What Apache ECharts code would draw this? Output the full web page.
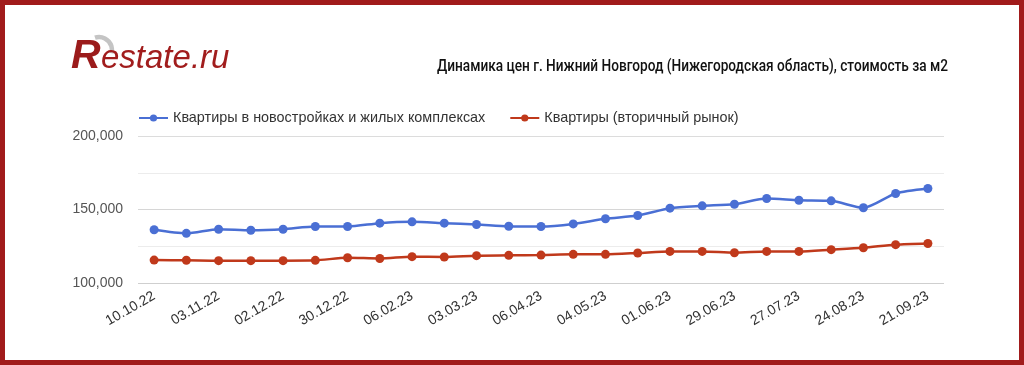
<!DOCTYPE html>
<html><head><meta charset="utf-8">
<script src="https://cdn.jsdelivr.net/npm/echarts@6/dist/echarts.min.js"></script>
<style>html,body{margin:0;padding:0;background:#fff}#c{width:1024px;height:365px}</style>
</head><body><div id="c"></div>
<script>
const categories = ['10.10.22','21.10.22','03.11.22','17.11.22','02.12.22','16.12.22','30.12.22','19.01.23','06.02.23','17.02.23','03.03.23','20.03.23','06.04.23','20.04.23','04.05.23','18.05.23','01.06.23','15.06.23','29.06.23','13.07.23','27.07.23','10.08.23','24.08.23','07.09.23','21.09.23'];
const newBuild = [136200,133800,136600,135900,136600,138400,138400,140700,141600,140700,139800,138600,138400,140200,143700,145900,150900,152500,153600,157500,156300,155900,151200,160900,164300];
const secondary = [115600,115500,115200,115200,115200,115400,117200,116700,117900,117700,118600,118800,119000,119500,119500,120400,121500,121500,120600,121500,121500,122700,124000,126100,126900];
const seriesNames = ['Квартиры в новостройках и жилых комплексах','Квартиры (вторичный рынок)'];
const titleText = 'Динамика цен г. Нижний Новгород (Нижегородская область), стоимость за м2';

const titleFont = '500 16px Roboto, "Liberation Sans", sans-serif';
const cv = document.createElement('canvas').getContext('2d');
cv.font = titleFont;
const titleScale = 511 / cv.measureText(titleText).width;

const chart = echarts.init(document.getElementById('c'), null, {renderer:'canvas'});
chart.setOption({
  backgroundColor:'#fff',
  animation:false,
  grid:{left:138,right:80,top:136,bottom:82,containLabel:false},
  legend:{
    left:138, top:111, padding:0, itemWidth:29, itemHeight:9, itemGap:24,
    textStyle:{fontSize:14.4,color:'#333',fontFamily:'"Liberation Sans", Arial, sans-serif'},
    data:seriesNames
  },
  xAxis:{
    type:'category', data:categories, boundaryGap:true,
    axisLine:{show:false}, axisTick:{show:false},
    axisLabel:{interval:1, rotate:30, fontSize:14, color:'#333', margin:12, fontFamily:'"Liberation Sans", Arial, sans-serif'}
  },
  yAxis:{
    type:'value', min:100000, max:200000, interval:25000,
    axisLine:{show:false}, axisTick:{show:false},
    axisLabel:{fontSize:14, color:'#555', margin:15, fontFamily:'"Liberation Sans", Arial, sans-serif',
      formatter:v => (v % 50000 === 0) ? v.toLocaleString('en-US') : ''},
    splitLine:{lineStyle:{color:['#cfcfcf','#ececec','#d6d6d6','#ececec','#dcdcdc'],width:1}}
  },
  series:[
    {name:seriesNames[0], type:'line', data:newBuild, symbol:'circle', symbolSize:9, smooth:0.25,
     itemStyle:{color:'#4a6fd4'}, lineStyle:{width:2.5,color:'#4a6fd4'}},
    {name:seriesNames[1], type:'line', data:secondary, symbol:'circle', symbolSize:9, smooth:0.25,
     itemStyle:{color:'#c0391b'}, lineStyle:{width:2.5,color:'#c0391b'}}
  ],
  graphic:[
    {type:'rect', shape:{x:2.5,y:2.5,width:1019,height:360}, style:{fill:null,stroke:'#a11b1b',lineWidth:5}, z:100},
    {type:'arc', shape:{cx:99,cy:50,r:13,startAngle:-Math.PI*0.6,endAngle:Math.PI*0.08,clockwise:true},
     style:{fill:null,stroke:'#c4c4c4',lineWidth:4.5}, z:10},
    {type:'text', left:71, top:36, style:{text:'R', font:'italic bold 41px "Liberation Sans", Arial, sans-serif', fill:'#9b1b1b'}, z:11},
    {type:'text', left:101, top:42, style:{text:'estate.ru', font:'italic 33px "Liberation Sans", Arial, sans-serif', fill:'#a11d1d'}, z:11},
    {type:'text', x:437, y:67, scaleX:titleScale, originX:0, originY:0,
     style:{text:titleText, font:titleFont, fill:'#111', textVerticalAlign:'middle', verticalAlign:'middle'}, z:11}
  ]
});
</script></body></html>
